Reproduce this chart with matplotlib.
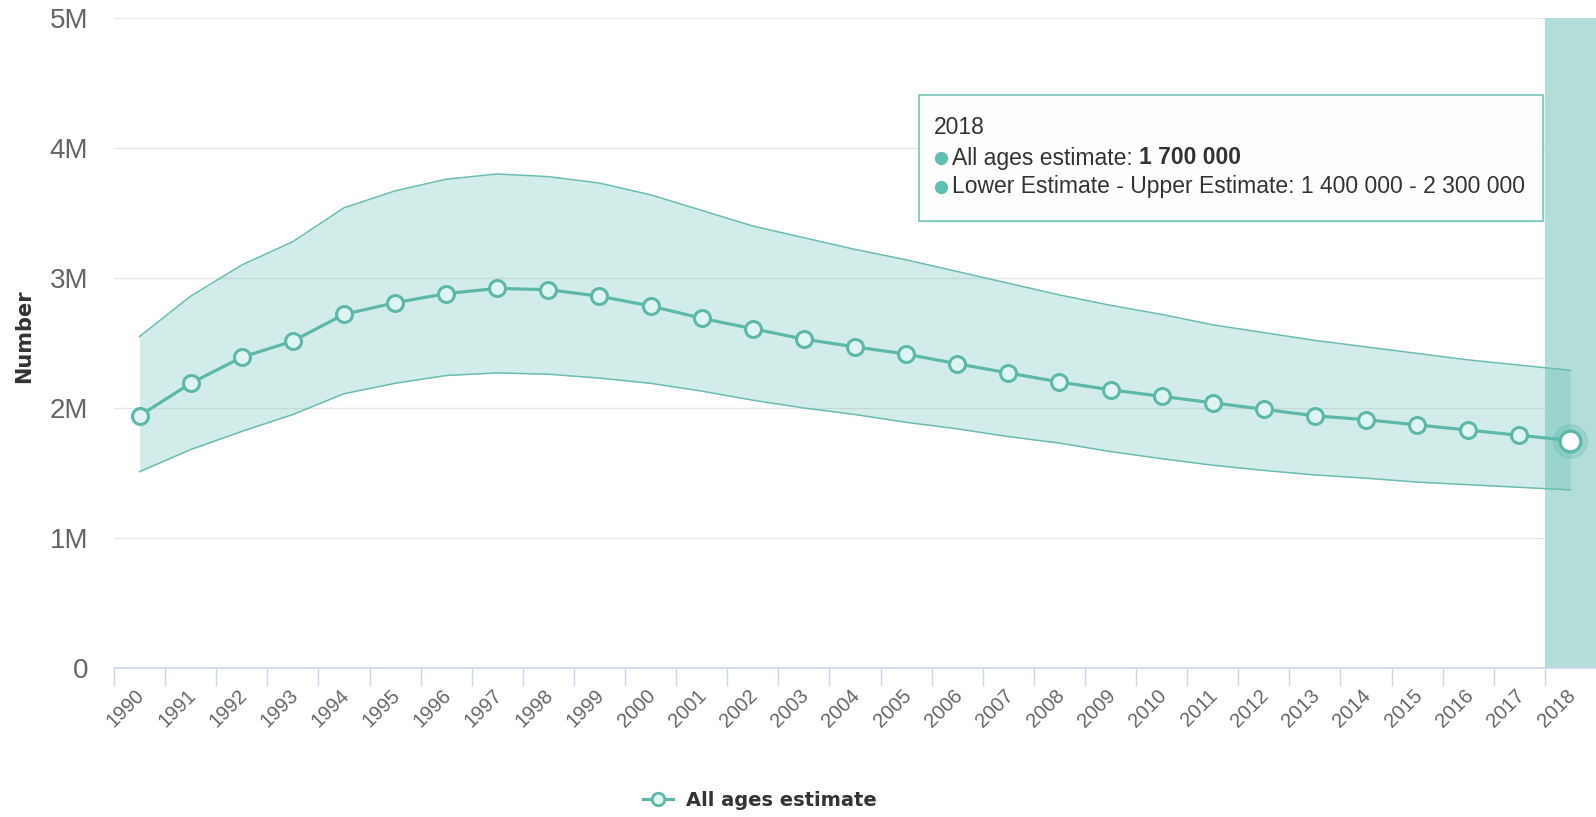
import matplotlib
matplotlib.use('Agg')
import matplotlib.pyplot as plt
from matplotlib.lines import Line2D
from matplotlib.patches import Rectangle
from matplotlib.transforms import ScaledTranslation
import numpy as np

plt.rcParams['font.family'] = ['Liberation Sans', 'DejaVu Sans']

# data (millions)
years = [str(y) for y in range(1990, 2019)]
estimate = [1.94, 2.19, 2.39, 2.515, 2.72, 2.81, 2.88, 2.92, 2.91, 2.86,
            2.785, 2.69, 2.61, 2.53, 2.47, 2.415, 2.34, 2.27, 2.20, 2.14,
            2.09, 2.04, 1.99, 1.94, 1.91, 1.87, 1.83, 1.79, 1.75]
upper = [2.55, 2.86, 3.10, 3.28, 3.54, 3.67, 3.76, 3.80, 3.78, 3.73,
         3.64, 3.52, 3.40, 3.31, 3.22, 3.14, 3.05, 2.96, 2.87, 2.79,
         2.72, 2.64, 2.58, 2.52, 2.47, 2.42, 2.37, 2.33, 2.29]
lower = [1.51, 1.68, 1.82, 1.95, 2.11, 2.19, 2.25, 2.27, 2.26, 2.23,
         2.19, 2.13, 2.06, 2.00, 1.95, 1.89, 1.84, 1.78, 1.73, 1.665,
         1.61, 1.56, 1.52, 1.485, 1.46, 1.43, 1.41, 1.39, 1.37]
y_ticks = [0, 1, 2, 3, 4, 5]
y_labels = ['0', '1M', '2M', '3M', '4M', '5M']

tip_year = '2018'
tip_estimate = '1 700 000'
tip_range = '1 400 000 - 2 300 000'

W, H = 1596, 817
line_color = '#5db8aa'
fill_color = '#5fbfb0'
band_color = '#b3ddd8'
grid_color = '#e6e6e6'
axis_color = '#ccd6eb'


def fx(x):
    return x / W


def fy(y):
    return 1 - y / H


fig = plt.figure(figsize=(W / 100, H / 100), dpi=100)
ax = fig.add_axes([fx(114), fy(668), 1482 / W, 650 / H])

x = np.arange(len(years))
est = np.array(estimate) * 1e6
up = np.array(upper) * 1e6
lo = np.array(lower) * 1e6

# hovered category band
ax.axvspan(x[-1] - 0.5, x[-1] + 0.5, color=band_color, zorder=0.6, lw=0)

ax.fill_between(x, lo, up, color=fill_color, alpha=0.28, lw=0, zorder=1)
ax.plot(x, up, color='#6bbdb1', lw=1.1, zorder=1.5)
ax.plot(x, lo, color='#6bbdb1', lw=1.1, zorder=1.5)

ax.plot(x, est, color=line_color, lw=2.3, marker='o', markersize=11.5,
        markerfacecolor='#dff5f2', markeredgecolor=line_color,
        markeredgewidth=2.2, zorder=3)

# hover state of last point
ax.plot(x[-1], est[-1], marker='o', markersize=24, color=fill_color,
        alpha=0.3, lw=0, zorder=3.5)
ax.plot(x[-1], est[-1], marker='o', markersize=15, markerfacecolor='white',
        markeredgecolor=line_color, markeredgewidth=2.4, lw=0, zorder=4)

ax.set_xlim(-0.5, len(years) - 0.5)
ax.set_ylim(0, 5e6)

ax.set_yticks(np.array(y_ticks) * 1e6, labels=y_labels)
ax.tick_params(axis='y', length=0, pad=18.5, labelsize=20, labelcolor='#666666')
ax.yaxis.grid(True, color=grid_color, lw=1)
ax.set_axisbelow(True)

ax.set_xticks(x, labels=years, rotation=45, ha='right', va='baseline',
              rotation_mode='anchor')
ax.set_xticks(np.arange(-0.5, len(years) - 0.5), minor=True)
ax.tick_params(axis='x', which='major', length=0, pad=20.5, labelsize=14.5,
               labelcolor='#666666')
ax.tick_params(axis='x', which='minor', length=13, width=1, color=axis_color)
shift = ScaledTranslation(6 / 100, 0, fig.dpi_scale_trans)
for lab in ax.get_xticklabels():
    lab.set_transform(lab.get_transform() + shift)

for s in ['top', 'right', 'left']:
    ax.spines[s].set_visible(False)
ax.spines['bottom'].set_color(axis_color)
ax.spines['bottom'].set_linewidth(1.2)

ax.set_ylabel('Number', fontsize=15, fontweight='bold', color='#333333',
              family='DejaVu Sans')
ax.yaxis.set_label_coords((34 - 114) / 1482, (668 - 336) / 650)

# legend
handle = Line2D([], [], color=line_color, lw=2.3, marker='o', markersize=9,
                markerfacecolor='#dff5f2', markeredgecolor=line_color,
                markeredgewidth=2)
leg = fig.legend(handles=[handle], labels=['All ages estimate'], loc='center',
                 bbox_to_anchor=(fx(760), fy(800)), frameon=False,
                 handlelength=1.55, handletextpad=0.7,
                 prop={'family': 'DejaVu Sans', 'weight': 'bold', 'size': 14})
for t in leg.get_texts():
    t.set_color('#333333')

# tooltip
fig.add_artist(Rectangle((fx(921), fy(223)), 624 / W, 126 / H,
                         transform=fig.transFigure, facecolor='black',
                         alpha=0.06, lw=0, zorder=9))
fig.add_artist(Rectangle((fx(919), fy(221)), 624 / W, 126 / H,
                         transform=fig.transFigure, facecolor='white',
                         edgecolor='#6cc2b5', lw=1.2, alpha=0.95, zorder=10))
tsize = 16.5
fig.text(fx(934), fy(127), tip_year, fontsize=tsize, color='#333333',
         va='center', ha='left', zorder=11)
for yy in [158, 187]:
    fig.add_artist(Line2D([fx(941)], [fy(yy)], marker='o', markersize=8.5,
                          color=fill_color, transform=fig.transFigure,
                          zorder=11))
t1 = fig.text(fx(952), fy(158), 'All ages estimate: ', fontsize=tsize,
              color='#333333', va='center', ha='left', zorder=11)
fig.text(fx(952), fy(187), 'Lower Estimate - Upper Estimate: ' + tip_range,
         fontsize=tsize, color='#333333', va='center', ha='left', zorder=11)
r = fig.canvas.get_renderer()
bb = t1.get_window_extent(renderer=r)
fig.text(bb.x1 / W, fy(158), tip_estimate, fontsize=tsize, color='#333333',
         fontweight='bold', va='center', ha='left', zorder=11)

fig.savefig('out.png', dpi=100)
